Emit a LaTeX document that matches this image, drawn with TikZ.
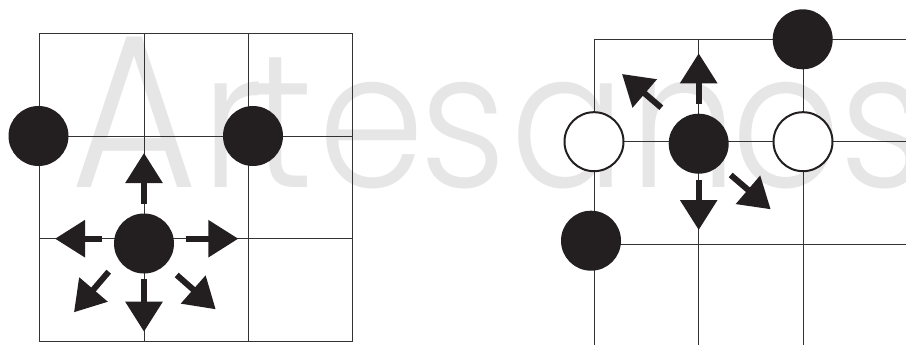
\documentclass[tikz,border=0pt]{standalone}
\usepackage{fontspec}
\usetikzlibrary{arrows.meta}
\newfontfamily\wmfont{Poppins Light}
\definecolor{ink}{HTML}{231F20}
\definecolor{wmgray}{HTML}{E6E6E6}
\begin{document}
\begin{tikzpicture}[x=1pt,y=-1pt,
  grid/.style={draw=black!80, line width=0.9pt},
  bstone/.style={circle, fill=ink, minimum size=60pt, inner sep=0pt},
  wstone/.style={circle, fill=white, draw=ink, line width=2pt, minimum size=59pt, inner sep=0pt},
  mv/.style={draw=ink, line width=6pt, -{Triangle[length=30pt,width=36pt]}},
  wm/.style={text=wmgray, inner sep=0pt, anchor=base, xscale=0.9,
    font=\wmfont\fontsize{190}{190}\selectfont},
  wmcap/.style={wm, font=\wmfont\fontsize{218}{218}\selectfont}]
\useasboundingbox (0,0) rectangle (906,345);
% watermark
\node[wmcap] (wm1) at (134.5,187) {A};
\node[wm] (wm2) at (232,187) {r};
\node[wm] (wm3) at (283,187) {t};
\node[wm] (wm4) at (372,187) {e};
\node[wm] (wm5) at (463.5,187) {s};
\node[wm] (wm6) at (568,187) {a};
\node[wm] (wm7) at (684,187) {n};
\node[wm] (wm8) at (786.5,187) {o};
\node[wm] (wm9) at (883.5,187) {s};
% ---- left board ----
\draw[grid] (39,33.5) rectangle (352,341);
\draw[grid] (144,33.5) -- (144,341) (248.5,33.5) -- (248.5,341)
  (39,136) -- (352,136) (39,238.7) -- (352,238.7);
\node[bstone] (L1) at (38.5,136) {};
\node[bstone] (L2) at (253,136) {};
\node[bstone] (L0) at (144,243.5) {};
\coordinate (Lus) at (144,204);   \coordinate (Lut) at (144,153);
\coordinate (Lls) at (102,238.7); \coordinate (Llt) at (55,238.7);
\coordinate (Lrs) at (185.7,238.7); \coordinate (Lrt) at (238.3,238.7);
\coordinate (Lds) at (144,279);   \coordinate (Ldt) at (144,331.7);
\coordinate (Ldls) at (108.7,271.7); \coordinate (Ldlt) at (74,312.3);
\coordinate (Ldrs) at (176.7,275); \coordinate (Ldrt) at (215.7,309.3);
\draw[mv] (Lus) -- (Lut);
\draw[mv] (Lls) -- (Llt);
\draw[mv] (Lrs) -- (Lrt);
\draw[mv] (Lds) -- (Ldt);
\draw[mv] (Ldls) -- (Ldlt);
\draw[mv] (Ldrs) -- (Ldrt);
% ---- right board ----
\draw[grid] (906,39.3) -- (594,39.3) -- (594,345);
\draw[grid] (698.7,39.3) -- (698.7,345) (803,39.3) -- (803,345)
  (594,141.7) -- (906,141.7) (594,244.3) -- (906,244.3);
\node[wstone] (R1) at (594,141.7) {};
\node[bstone] (R0) at (698.7,143.7) {};
\node[wstone] (R2) at (803,141.7) {};
\node[bstone] (R3) at (802.7,39.3) {};
\node[bstone] (R4) at (591,240.7) {};
\coordinate (Rus) at (698.7,104);  \coordinate (Rut) at (698.7,53.3);
\coordinate (Rds) at (698.7,180);  \coordinate (Rdt) at (698.7,230);
\coordinate (Ruls) at (661.3,107.7); \coordinate (Rult) at (622,74);
\coordinate (Rdrs) at (730.7,175); \coordinate (Rdrt) at (770.7,209.3);
\draw[mv] (Rus) -- (Rut);
\draw[mv] (Rds) -- (Rdt);
\draw[mv] (Ruls) -- (Rult);
\draw[mv] (Rdrs) -- (Rdrt);
\end{tikzpicture}
\end{document}
